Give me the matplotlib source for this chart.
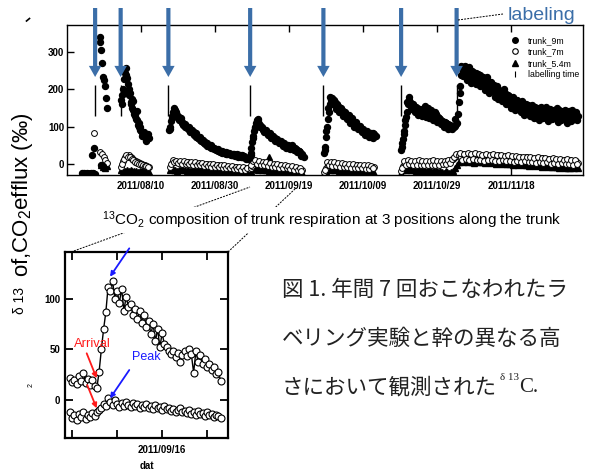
import numpy as np
import matplotlib
matplotlib.use('Agg')
import matplotlib.pyplot as plt
from matplotlib.lines import Line2D
from datetime import date

plt.rcParams['font.family'] = ['Liberation Sans', 'DejaVu Sans']
plt.rcParams['mathtext.fontset'] = 'custom'
plt.rcParams['mathtext.rm'] = 'Liberation Sans'
plt.rcParams['mathtext.it'] = 'Liberation Sans:italic'
plt.rcParams['mathtext.bf'] = 'Liberation Sans:bold'

# ---------------- data: main panel ----------------
START = date(2011, 7, 21)           # day 0 of the main panel
STEP = 0.5                          # measurement interval (days)
x_tick_dates = [date(2011, 8, 10), date(2011, 8, 30), date(2011, 9, 19),
                date(2011, 10, 9), date(2011, 10, 29), date(2011, 11, 18)]
x_tick_labels = ['2011/08/10', '2011/08/30', '2011/09/19',
                 '2011/10/09', '2011/10/29', '2011/11/18']
y_ticks = [0, 100, 200, 300]
labeling_days = [7.6, 14.5, 27.4, 49.5, 69.3, 90.3, 105.3]

# (start day, values)  -- trunk_9m
trunk_9m = [
    (4.0, [-25, -23, -26, -24, -27, -25, -24, -26]),
    (6.7, [24, 42]),
    (8.8, [341, 306, 234, 210, 149]),
    (9.05, [327, 270, 226, 177]),
    (9.3, [-3, -6]),
    (14.7, [172, 200, 245, 195, 185, 165, 150, 135, 120, 105, 92, 85, 78, 72, 68, 70]),
    (14.95, [185, 228, 256, 215, 190, 175, 146, 140, 118, 98, 88, 80, 75, 62, 80]),
    (14.85, [160, 190, 238, 230, 200, 160, 170, 128, 142, 110, 100, 76, 86, 64, 72]),
    (27.7, [90, 115, 138, 145, 132, 126, 117, 113, 105, 103, 96, 93, 86, 85, 78, 76,
            70, 66, 60, 58, 53, 51, 46, 46, 41, 41, 36, 36, 32, 32, 29, 30, 27, 28,
            25, 27, 23, 25, 21, 23, 19, 20, 17, 15]),
    (27.95, [100, 128, 142, 138, 122, 120, 110, 108, 100, 98, 90, 89, 82, 80, 73, 71,
             64, 63, 56, 55, 49, 48, 44, 43, 39, 38, 34, 34, 30, 31, 28, 29, 26, 27,
             24, 25, 22, 23, 20, 21, 18, 17, 13]),
    (27.85, [95, 122, 150, 135, 128, 118, 122, 104, 108, 96, 100, 86, 92, 78, 82, 70,
             72, 62, 64, 54, 56, 48, 50, 42, 44, 38, 40, 33, 35, 30, 32, 26, 30, 24,
             28, 22, 26, 20, 24, 18, 22, 14]),
    (49.6, [24, 60, 88, 110, 115, 104, 97, 92, 88, 84, 80, 77, 73, 69, 65, 62, 58, 54,
            51, 48, 46, 45, 47, 45, 41, 38, 35, 31, 26, 19]),
    (49.85, [42, 75, 100, 118, 108, 100, 94, 90, 85, 82, 78, 74, 70, 67, 63, 60, 56,
             52, 49, 47, 44, 48, 44, 42, 39, 36, 30, 24]),
    (49.75, [30, 70, 96, 112, 120, 98, 100, 86, 92, 78, 84, 70, 76, 62, 68, 55, 62, 48,
             55, 44, 50, 40, 52, 38, 44, 32, 36, 22]),
    (69.5, [30, 73, 120, 160, 176, 170, 165, 158, 152, 147, 142, 137, 132, 127, 122,
            117, 112, 107, 103, 99, 95, 92, 88, 84, 80, 78, 76, 80, 75]),
    (69.75, [46, 100, 140, 172, 168, 162, 155, 150, 145, 139, 135, 129, 125, 119, 115,
             110, 105, 101, 97, 93, 90, 86, 82, 79, 75, 73, 82]),
    (69.6, [38, 88, 150, 180, 160, 172, 148, 160, 138, 150, 128, 140, 120, 132, 110,
            122, 100, 112, 94, 102, 85, 95, 78, 88, 72, 84, 70]),
    (90.3, [38, 68, 105, 140, 172, 165, 155, 150, 147, 143, 140, 136, 140, 155, 132,
            138, 145, 133, 130, 134, 125, 120, 116, 112, 110, 107, 104, 101, 99, 103,
            110, 135]),
    (90.55, [55, 88, 125, 160, 180, 160, 152, 145, 150, 138, 145, 132, 135, 130, 142,
             128, 135, 126, 138, 122, 118, 114, 108, 113, 102, 106, 97, 102, 98, 108]),
    (90.45, [45, 80, 118, 165, 170, 148, 160, 140, 152, 132, 148, 128, 142, 125, 150,
             122, 140, 118, 132, 112, 124, 108, 116, 100, 110, 95, 105, 94, 100, 120]),
    (106.0, [165, 238, 245, 262, 240, 255, 236, 250, 228, 244, 222, 238, 215, 232, 210,
             226, 200, 220, 195, 212, 188, 200, 180, 195, 172, 190, 165, 182, 158, 175,
             155, 170, 150, 163, 146, 160, 142, 158, 140, 155, 136, 152, 133, 150, 130,
             148, 128, 152, 125, 146, 130, 145, 126, 150, 128, 142, 124, 146, 127, 140,
             122, 145, 125, 138, 128]),
    (106.25, [210, 255, 250, 240, 258, 232, 246, 240, 226, 235, 230, 218, 228, 220, 206,
              214, 210, 196, 205, 190, 198, 184, 176, 186, 170, 178, 172, 160, 170, 158,
              165, 148, 160, 152, 140, 157, 145, 138, 150, 136, 146, 140, 130, 144, 138,
              128, 142, 134, 125, 140, 132, 122, 137, 130, 120, 138, 128, 118, 135, 126,
              120, 132, 124, 118]),
    (106.1, [190, 262, 236, 248, 225, 260, 218, 246, 238, 215, 240, 208, 230, 222, 198,
             232, 190, 215, 204, 180, 210, 175, 192, 168, 200, 160, 186, 176, 150, 180,
             145, 172, 160, 138, 168, 132, 160, 150, 128, 158, 124, 150, 140, 118, 152,
             122, 145, 132, 115, 148, 120, 140, 128, 112, 146, 118, 138, 124, 110, 142,
             116, 134, 120, 128]),
]

# trunk_7m
trunk_7m = [
    (6.0, [-24, -26, -25]),
    (7.2, [84]),
    (8.9, [33, 27, 20, 12, 2]),
    (14.7, [-8, 8, 18, 22, 24, 20, 16, 12, 8, 5, 2, 0, -2, -4, -5, -7]),
    (14.95, [0, 14, 25, 20, 18, 13, 10, 6, 3, 1, -1, -3, -5, -6, -8]),
    (27.8, [-8, 2, 7, 8, 6, 5, 6, 4, 5, 3, 4, 2, 3, 1, 2, 0, 1, -1, 0, -2, -1, -3, -2,
            -4, -3, -5, -4, -6, -5, -7, -6, -8, -7, -9, -8, -10, -9, -11, -10, -12, -11,
            -12, -13]),
    (28.05, [0, 10, 4, 9, 2, 8, 1, 7, 0, 6, -1, 5, -2, 4, -3, 3, -4, 2, -5, 1, -6, 0,
             -7, -1, -8, -2, -9, -3, -10, -4, -11, -5, -12, -6, -13, -7, -14, -8, -15,
             -9, -16, -10]),
    (49.6, [-12, -5, 2, 6, 4, 3, 1, 2, 0, -1, 0, -2, -3, -2, -4, -5, -4, -6, -7, -6, -8,
            -9, -8, -10, -11, -12, -13, -14, -16]),
    (49.85, [-4, 8, 10, 0, 7, -2, 5, -4, 4, -5, 2, -7, 0, -8, -1, -10, -2, -11, -4, -12,
             -5, -14, -6, -15, -8, -17, -10, -18]),
    (69.5, [-22, -12, -3, 0, 2, 0, -1, 1, -2, 0, -3, -1, -4, -2, -3, -5, -3, -6, -4, -5,
            -7, -5, -6, -8, -6, -7, -9, -8]),
    (69.75, [-15, 5, -4, 6, -5, 4, -6, 3, -7, 2, -8, 1, -9, 0, -10, -1, -11, -2, -12, -3,
             -12, -4, -13, -4, -14, -5, -12]),
    (90.3, [-20, -5, 3, 6, 4, 2, 5, 3, 1, 4, 2, 0, 3, 1, 4, 2, 0, 3, 1, 2, 4, 2, 5, 3, 6,
            4, 8, 10, 14, 18, 22]),
    (90.55, [-12, 8, -2, 10, -1, 9, -3, 8, -2, 10, -4, 7, -3, 9, -2, 8, -4, 10, -3, 7,
             -2, 9, -1, 8, 0, 11, 2, 14, 20, 26]),
    (106.0, [24, 20, 26, 22, 18, 25, 21, 17, 24, 20, 23, 19, 22, 18, 21, 24, 19, 22, 17,
             21, 20, 23, 18, 21, 16, 20, 22, 17, 19, 15, 20, 18, 14, 19, 16, 13, 18, 15,
             12, 17, 14, 11, 16, 13, 10, 15, 12, 9, 14, 11, 8, 13, 10, 7, 12, 9, 6, 11,
             8, 5, 10, 7, 4, 9, 3]),
    (106.25, [30, 12, 28, 14, 30, 10, 26, 13, 29, 11, 27, 12, 25, 9, 28, 10, 24, 12, 26,
              8, 25, 9, 23, 11, 22, 7, 24, 8, 21, 6, 22, 9, 19, 5, 20, 7, 18, 4, 19, 6,
              17, 3, 18, 5, 15, 2, 16, 4, 14, 1, 15, 3, 13, 0, 14, 2, 12, -1, 13, 1, 10,
              -2, 11, 0]),
]

# trunk_5.4m
trunk_54m = [
    (9.3, [-3, -8, -10, -6]),
    (14.7, [-15, -18, -20, -16, -19, -17, -20, -18, -19, -21, -18, -20, -19, -22, -20, -21]),
    (27.8, [-16, -14, -17, -15, -18, -16, -14, -17, -15, -18, -16, -19, -17, -15, -18,
            -16, -19, -17, -20, -18, -16, -19, -17, -20, -18, -21, -19, -17, -20, -18,
            -21, -19, -22, -20, -18, -21, -19, -22, -20, -23, -21, -19, -22]),
    (54.7, [20]),
    (49.6, [-18, -14, -10, -12, -15, -13, -16, -14, -17, -15, -18, -16, -19, -17, -20,
            -18, -21, -19, -22, -20, -21, -23, -21, -22, -24, -22, -23, -25, -24]),
    (69.5, [-24, -18, -14, -16, -13, -17, -15, -14, -18, -16, -15, -19, -17, -16, -20,
            -18, -17, -21, -19, -18, -20, -22, -19, -21, -20, -22, -21, -23]),
    (90.3, [-24, -16, -12, -15, -13, -17, -14, -16, -18, -15, -17, -19, -16, -18, -20,
            -17, -19, -21, -18, -20, -22, -19, -21, -23, -20, -22, -24, -21, -18, -10, -2]),
    (106.0, [5, 8, 6, 10, 7, 4, 9, 6, 3, 8, 5, 7, 4, 6, 3, 5, 7, 2, 4, 6, 1, 3, 5, 0, 2,
             4, -1, 1, 3, -2, 0, 2, -3, -1, 1, -4, -2, 0, -5, -3, -1, -6, -4, -2, -5, -7,
             -3, -6, -8, -4, -7, -9, -5, -8, -10, -6, -9, -11, -7, -10, -12, -8, -11, -9,
             -12]),
]

# ---------------- data: inset (September 2011, day of month) ----------------
inset_start = 5.8
inset_step = 0.25
inset_ticks = [6, 11, 16, 21]
inset_tick_labels = ['', '', '2011/09/16', '']
inset_yticks = [0, 50, 100]
inset_upper = [22, 18, 20, 16, 24, 19, 27, 17, 21, 15, 20, 14, 12, 28, 50, 70, 87, 112,
               108, 117, 100, 108, 96, 110, 88, 102, 92, 95, 84, 90, 80, 88, 76, 84, 72,
               78, 65, 75, 58, 70, 52, 66, 55, 52, 48, 45, 48, 42, 46, 38, 44, 48, 43,
               50, 45, 27, 48, 38, 44, 36, 40, 33, 36, 30, 33, 26, 28, 19]
inset_lower = [-12, -18, -15, -20, -14, -17, -12, -19, -15, -17, -13, -16, -12, -10, -8,
               -4, -6, 2, -2, -5, 0, -4, -7, -3, -6, -2, -5, -7, -3, -6, -4, -8, -5, -7,
               -4, -8, -6, -9, -5, -8, -7, -10, -6, -9, -8, -11, -9, -12, -10, -8, -12,
               -11, -13, -10, -14, -12, -15, -11, -14, -13, -16, -12, -15, -14, -17, -15,
               -16, -18]

caption_en = '$^{13}$CO$_2$ composition of trunk respiration at 3 positions along the trunk'
caption_jp = ['図 1. 年間 7 回おこなわれたラ',
              'ベリング実験と幹の異なる高',
              'さにおいて観測された']


def expand(segs):
    d, v = [], []
    for s, vals in segs:
        d.extend(s + STEP * np.arange(len(vals)))
        v.extend(vals)
    return np.array(d), np.array(v, dtype=float)


W, H = 593, 472
fig = plt.figure(figsize=(W / 100, H / 100), dpi=100)


def fx(px):
    return px / W


def fy(py):
    return 1 - py / H


# ---------------- main panel ----------------
ax = fig.add_axes([fx(67), fy(175), (583 - 67) / W, (175 - 25) / H])
d54, v54 = expand(trunk_54m)
d7, v7 = expand(trunk_7m)
d9, v9 = expand(trunk_9m)
ax.plot(d54, v54, '^', ms=4.2, color='black', ls='none')
ax.plot(d7, v7, 'o', ms=4.2, mfc='white', mec='black', mew=0.7, ls='none')
ax.plot(d9, v9, 'o', ms=4.3, mfc='black', mec='black', ls='none')
ax.vlines(labeling_days, 128, 212, color='black', lw=1.0)

ax.set_xlim(0, 139.46)
ax.set_ylim(-29.5, 372.5)
ax.set_xticks([(t - START).days for t in x_tick_dates])
ax.set_xticklabels(x_tick_labels)
ax.set_yticks(y_ticks)
ax.tick_params(direction='in', length=5, width=1, top=True, bottom=True,
               left=True, right=False, labelsize=7)
ax.tick_params(axis='x', pad=4.5)
ax.tick_params(axis='y', pad=2)
for lbl in ax.get_xticklabels() + ax.get_yticklabels():
    lbl.set_fontweight('bold')
for sp in ax.spines.values():
    sp.set_linewidth(1.0)

handles = [Line2D([], [], marker='o', ls='none', ms=4, color='black'),
           Line2D([], [], marker='o', ls='none', ms=4, mfc='white', mec='black', mew=0.8),
           Line2D([], [], marker='^', ls='none', ms=4, color='black'),
           Line2D([], [], marker='|', ls='none', ms=4, color='black', mew=0.8)]
ax.legend(handles, ['trunk_9m', 'trunk_7m', 'trunk_5.4m', 'labelling time'],
          loc='upper left', bbox_to_anchor=(fx(511), fy(36)),
          bbox_transform=fig.transFigure, frameon=False, fontsize=6.3,
          handlelength=1.0, handletextpad=0.9, labelspacing=0.28,
          borderpad=0, borderaxespad=0)

# labeling arrows
arrow_color = '#3b6ea8'
for d in labeling_days:
    ax.annotate('', xy=(d, fy(77)), xytext=(d, fy(8)),
                xycoords=('data', 'figure fraction'),
                textcoords=('data', 'figure fraction'),
                arrowprops=dict(arrowstyle='simple,head_width=0.9,head_length=0.8,tail_width=0.3',
                                fc=arrow_color, ec='none', lw=0, shrinkA=0, shrinkB=0,
                                mutation_scale=10),
                annotation_clip=False)
fig.text(fx(508), fy(15), 'labeling', color=arrow_color, fontsize=14, va='center', ha='left')
fig.add_artist(Line2D([fx(458), fx(503)], [fy(20), fy(14)], transform=fig.transFigure,
                      color='black', lw=0.7, ls=(0, (2, 1.2))))

# ---------------- y-label fragments ----------------
fig.text(fx(23), fy(195), 'of,CO$_2$efflux (‰)', rotation=90, fontsize=16,
         ha='center', va='center')
fig.text(fx(20), fy(301), 'δ 13', rotation=90, fontsize=10, ha='center', va='center')
fig.text(fx(31), fy(385), '2', rotation=90, fontsize=5, ha='center', va='center')
fig.add_artist(Line2D([fx(26.5), fx(29.5)], [fy(21), fy(18.5)], transform=fig.transFigure,
                      color='black', lw=1.2))

# ---------------- connectors + English caption ----------------
for (x0, y0), (x1, y1) in [((71, 252), (250, 187)), ((228, 252), (296, 188))]:
    fig.add_artist(Line2D([fx(x0), fx(x1)], [fy(y0), fy(y1)], transform=fig.transFigure,
                          color='black', lw=0.7, ls=(0, (2, 1.2)), zorder=1))
fig.text(fx(102), fy(220), caption_en, fontsize=11, ha='left', va='center',
         bbox=dict(facecolor='white', edgecolor='none', pad=1.5), zorder=5)

# ---------------- inset ----------------
ax2 = fig.add_axes([fx(65), fy(438.3), (228 - 65) / W, (438.3 - 251.7) / H])
di = inset_start + inset_step * np.arange(len(inset_upper))
ax2.plot(di, inset_upper, '-o', color='black', lw=1.0, ms=5, mfc='white', mec='black', mew=0.8)
ax2.plot(di, inset_lower, '-o', color='black', lw=0.8, ms=5, mfc='white', mec='black', mew=0.8)
ax2.set_xlim(5.26, 23.37)
ax2.set_ylim(-37.8, 146.4)
ax2.set_xticks(inset_ticks)
ax2.set_xticklabels(inset_tick_labels)
ax2.set_yticks(inset_yticks)
ax2.tick_params(direction='in', length=6, width=1.3, top=True, right=True, labelsize=7)
ax2.tick_params(axis='x', pad=5)
ax2.tick_params(axis='y', pad=3.5)
for lbl in ax2.get_xticklabels() + ax2.get_yticklabels():
    lbl.set_fontweight('bold')
for sp in ax2.spines.values():
    sp.set_linewidth(1.6)
ax2.set_xlabel('dat', fontsize=7, fontweight='bold', labelpad=4.5)

red = '#ff1a1a'
blue = '#1a1aff'
ax2.text(6.3, 54.8, 'Arrival', color=red, fontsize=9.3, va='center', ha='left')
ax2.text(12.7, 42.5, 'Peak', color=blue, fontsize=9, va='center', ha='left')
for (t, h, c) in [((7.67, 46.1), (8.78, 21.4), red), ((7.73, 14.8), (8.78, -8.2), red),
                  ((12.4, 29.6), (10.26, 1.6), blue), ((12.4, 149.7), (10.26, 121.7), blue)]:
    ax2.annotate('', xy=h, xytext=t,
                 arrowprops=dict(arrowstyle='-|>', color=c, lw=1.3, mutation_scale=7,
                                 shrinkA=0, shrinkB=0),
                 annotation_clip=False)

# ---------------- Japanese caption ----------------
jp_font = ['Noto Sans CJK JP', 'DejaVu Sans']
jp_y = [290, 338.5, 387]
jp_texts = []
for line, y in zip(caption_jp, jp_y):
    jp_texts.append(fig.text(fx(282), fy(y), line, fontsize=15.5, family=jp_font,
                             ha='left', va='center', color='#222222'))
fig.canvas.draw()
bb = jp_texts[2].get_window_extent()
xe = bb.x1 + 3
fig.text(xe / W, fy(378), 'δ 13', fontsize=8, family=['Liberation Serif', 'DejaVu Serif'],
         ha='left', va='center', color='#222222')
fig.text((xe + 19) / W, fy(387), 'C.', fontsize=15, family=['Liberation Serif', 'DejaVu Serif'],
         ha='left', va='center', color='#222222')

fig.savefig('out.png', dpi=100)
